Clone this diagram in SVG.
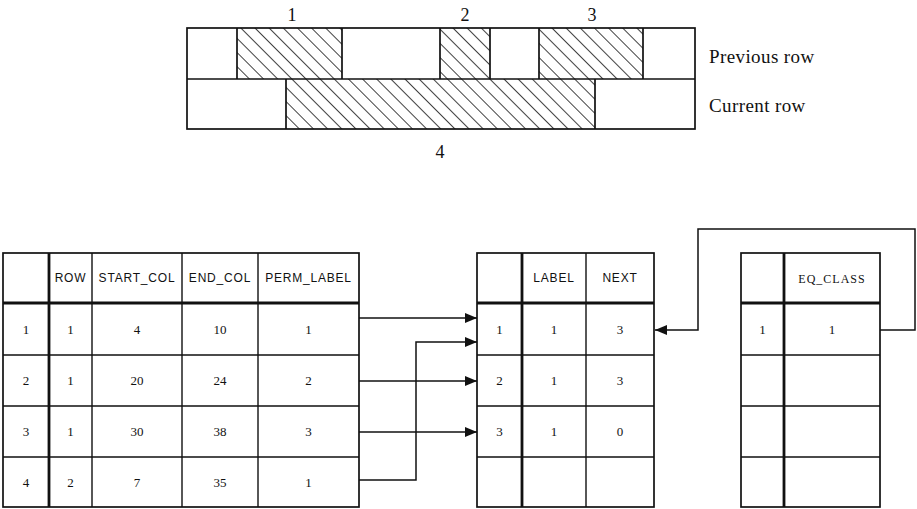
<svg xmlns="http://www.w3.org/2000/svg" width="917" height="509" viewBox="0 0 917 509">
<style>
.b{fill:none;stroke:#111;stroke-width:1.7}
.t{stroke:#111;stroke-width:1.4;fill:none}
.k{stroke:#111;stroke-width:2.8;fill:none}
.h{font-family:"Liberation Sans",Arial,sans-serif;font-size:12px;letter-spacing:0.8px;text-anchor:middle;fill:#111}
.n{font-family:"Liberation Serif","Times New Roman",serif;font-size:13px;text-anchor:middle;fill:#111}
.big{font-family:"Liberation Serif","Times New Roman",serif;font-size:18px;text-anchor:middle;fill:#111}
.lab{font-family:"Liberation Serif","Times New Roman",serif;font-size:19px;fill:#111;letter-spacing:0.4px}
.c{fill:none;stroke:#111;stroke-width:1.5}
</style>
<defs>
<pattern id="hatch" patternUnits="userSpaceOnUse" width="10" height="10" patternTransform="rotate(-45)">
<line x1="0" y1="0" x2="0" y2="10" stroke="#111" stroke-width="1.6"/>
</pattern>
<marker id="arr" markerUnits="userSpaceOnUse" markerWidth="12" markerHeight="10" refX="12" refY="5" orient="auto">
<path d="M0,0 L12,5 L0,10 Z" fill="#111"/>
</marker>
</defs>

<g id="rows-figure">
<rect x="237" y="28" width="105" height="51" fill="url(#hatch)"/>
<rect x="440" y="28" width="50" height="51" fill="url(#hatch)"/>
<rect x="539" y="28" width="104" height="51" fill="url(#hatch)"/>
<rect x="286" y="79" width="309" height="50" fill="url(#hatch)"/>
<rect class="b" x="187" y="28" width="508" height="101"/>
<line class="b" x1="187" y1="79" x2="695" y2="79"/>
<path class="b" d="M237,28V79M342,28V79M440,28V79M490,28V79M539,28V79M643,28V79M286,79V129M595,79V129"/>
<text class="big" x="292" y="21">1</text>
<text class="big" x="465" y="21">2</text>
<text class="big" x="592" y="21">3</text>
<text class="big" x="440" y="158">4</text>
<text class="lab" x="709" y="63">Previous row</text>
<text class="lab" x="709" y="112">Current row</text>
</g>

<g id="table-regions">
<rect class="b" x="3" y="253" width="356" height="254"/>
<path class="t" d="M3,355H359M3,406H359M3,457H359M92,253V507M182,253V507M258,253V507"/>
<path class="k" d="M3,303H359M49,253V507"/>
<text class="h" x="70.5" y="282">ROW</text>
<text class="h" x="137" y="282">START_COL</text>
<text class="h" x="220" y="282">END_COL</text>
<text class="h" x="308.5" y="282">PERM_LABEL</text>
<text class="n" x="26" y="334">1</text><text class="n" x="70.5" y="334">1</text><text class="n" x="137" y="334">4</text><text class="n" x="220" y="334">10</text><text class="n" x="308.5" y="334">1</text>
<text class="n" x="26" y="385">2</text><text class="n" x="70.5" y="385">1</text><text class="n" x="137" y="385">20</text><text class="n" x="220" y="385">24</text><text class="n" x="308.5" y="385">2</text>
<text class="n" x="26" y="436">3</text><text class="n" x="70.5" y="436">1</text><text class="n" x="137" y="436">30</text><text class="n" x="220" y="436">38</text><text class="n" x="308.5" y="436">3</text>
<text class="n" x="26" y="487">4</text><text class="n" x="70.5" y="487">2</text><text class="n" x="137" y="487">7</text><text class="n" x="220" y="487">35</text><text class="n" x="308.5" y="487">1</text>
</g>

<g id="table-labels">
<rect class="b" x="477" y="253" width="177" height="254"/>
<path class="t" d="M477,355H654M477,406H654M477,457H654M586,253V507"/>
<path class="k" d="M477,303H654M522,253V507"/>
<text class="h" x="554" y="282">LABEL</text>
<text class="h" x="620" y="282">NEXT</text>
<text class="n" x="499.5" y="334">1</text><text class="n" x="554" y="334">1</text><text class="n" x="620" y="334">3</text>
<text class="n" x="499.5" y="385">2</text><text class="n" x="554" y="385">1</text><text class="n" x="620" y="385">3</text>
<text class="n" x="499.5" y="436">3</text><text class="n" x="554" y="436">1</text><text class="n" x="620" y="436">0</text>
</g>

<g id="table-eqclass">
<rect class="b" x="741" y="253" width="139" height="254"/>
<path class="t" d="M741,355H880M741,406H880M741,457H880"/>
<path class="k" d="M741,303H880M784,253V507"/>
<text class="n" x="832" y="283" style="font-size:12px;letter-spacing:1px">EQ_CLASS</text>
<text class="n" x="762.5" y="334">1</text><text class="n" x="832" y="334">1</text>
</g>

<g id="connectors">
<path class="c" d="M359,318H477" marker-end="url(#arr)"/>
<path class="c" d="M359,381H477" marker-end="url(#arr)"/>
<path class="c" d="M359,432H477" marker-end="url(#arr)"/>
<path class="c" d="M359,480H416V342H477" marker-end="url(#arr)"/>
<path class="c" d="M880,330H915V229H698V330H655" marker-end="url(#arr)"/>
</g>
</svg>
